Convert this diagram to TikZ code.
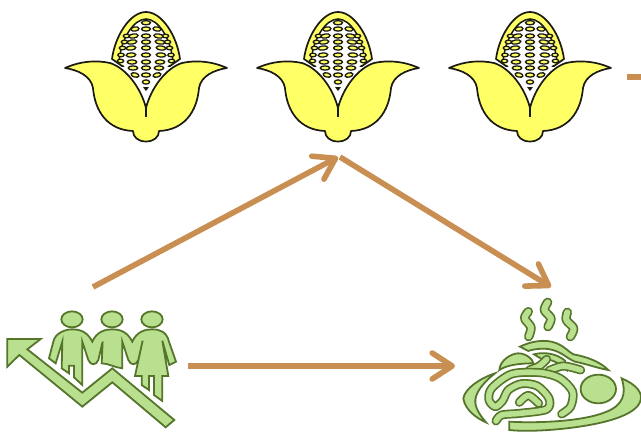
\documentclass[tikz,border=0pt]{standalone}
\usepackage{xcolor}
\usetikzlibrary{arrows.meta}
\definecolor{cornyellow}{HTML}{FFFF66}
\definecolor{cornline}{HTML}{1A1A10}
\definecolor{foodgreen}{HTML}{B9E08F}
\definecolor{foodline}{HTML}{55752B}
\definecolor{flowbrown}{HTML}{C98F52}
\tikzset{
  cornpart/.style={fill=cornyellow, draw=cornline, line width=1.7pt, line join=round},
  kernel/.style={fill=cornyellow, draw=cornline, line width=1.3pt},
  greenpart/.style={fill=foodgreen, draw=foodline, line width=1.8pt, line join=miter},
  noodle/.style={draw=foodline, line width=1.7pt, double=foodgreen, double distance=5.6pt, line cap=round, line join=round},
  steam/.style={noodle, double distance=6pt},
  flowline/.style={draw=flowbrown, line width=5.6pt, -{Straight Barb[round, length=20pt, width=26pt, line width=5.6pt]}},
}
\begin{document}
\begin{tikzpicture}[x=1pt, y=-1pt]
  \useasboundingbox (0,0) rectangle (641,434);
  % corn row
  \foreach \cx in {146,338,530} {
    \begin{scope}[shift={(\cx,0)}]
      \draw[cornpart] (-34,59) .. controls (-31,36) and (-16,12) .. (0,12) .. controls (16,12) and (31,36) .. (34,59) -- (24,66) -- (-24,66) -- cycle;
      \fill[white] (-27,60) .. controls (-25,38) and (-12,19) .. (0,19) .. controls (12,19) and (25,38) .. (27,60) -- (0,92) -- cycle;
      \draw[cornline, line width=1.5pt] (-27,62) .. controls (-25,38) and (-12,19) .. (0,19) .. controls (12,19) and (25,38) .. (27,62);
      \foreach \ky/\kx in {36/19.5, 42/21.5, 48/23.5, 55/25, 61/25.5} {
        \draw[kernel] (-\kx,\ky) ellipse (3.2pt and 1.8pt);
        \draw[kernel] (\kx,\ky) ellipse (3.2pt and 1.8pt);
      }
      \foreach \ky/\kx/\krx/\kang in {29/11/4/8, 36/12.5/4.6/8, 42/14/4.8/8, 48/15/4.8/6, 55/15/4.8/4, 62/14/4.8/0, 68/13/4.8/0, 75/11/4/-15} {
        \draw[kernel] (-\kx,\ky) [rotate around={\kang:(-\kx,\ky)}] ellipse (\krx pt and 2.1pt);
        \draw[kernel] (\kx,\ky) [rotate around={-\kang:(\kx,\ky)}] ellipse (\krx pt and 2.1pt);
      }
      \foreach \ky/\krx in {22.7/4.5, 29/4.5, 36/4.5, 42/4.5, 48/4.5, 55/4.5, 62/4.5, 68/4.5, 75/4.5, 82/3.6} {
        \draw[kernel] (0,\ky) ellipse (\krx pt and 2.1pt);
      }
      \fill[cornline] (-3,87) -- (3,87) -- (0,91) -- cycle;
      \draw[cornpart] (0,108) .. controls (-5,88) and (-20,68) .. (-36,63) .. controls (-50,60) and (-65,61) .. (-81,68)
        .. controls (-68,70) and (-55,76) .. (-53,88) .. controls (-51,112) and (-38,130) .. (-13,131)
        .. controls (-13,137) and (-8,141.5) .. (0,141.5) .. controls (8,141.5) and (13,137) .. (13,131)
        .. controls (38,130) and (51,112) .. (53,88) .. controls (55,76) and (68,70) .. (81,68)
        .. controls (65,61) and (50,60) .. (36,63) .. controls (20,68) and (5,88) .. (0,108) -- cycle;
      \draw[cornline, line width=1.7pt] (0,106) -- (0,117);
    \end{scope}
  }
  % people on the rising line
  \begin{scope}[shift={(0,300)}, scale=0.3333]
    \draw[greenpart] (216,58) ellipse (32 and 24);
    \draw[greenpart] (336,58) ellipse (32 and 24);
    \draw[greenpart] (456,58) ellipse (32 and 24);
    \draw[greenpart] (147,175) -- (160,125) .. controls (165,100) and (195,88) .. (216,88) .. controls (240,88) and (262,95) .. (277,125)
      .. controls (290,95) and (315,88) .. (336,88) .. controls (360,88) and (382,95) .. (397,125)
      .. controls (410,95) and (435,88) .. (456,88) .. controls (480,88) and (500,95) .. (507,125) -- (528,185) -- (508,195) -- (487,122)
      -- (505,228) -- (487,228) -- (487,303) -- (462,285) -- (462,228) -- (447,228) -- (447,270) -- (425,255) -- (425,228) -- (405,228) -- (428,122)
      -- (415,180) .. controls (408,197) and (392,197) .. (385,180) -- (367,125) -- (367,205) .. controls (345,203) and (325,190) .. (305,190) -- (308,125)
      -- (295,180) .. controls (288,197) and (272,197) .. (265,180) -- (247,125) -- (247,255) -- (222,232) -- (222,197) -- (207,197) -- (207,220) -- (185,205) -- (187,125) -- (167,190) -- cycle;
    \draw[greenpart] (22,117) -- (122,117) -- (82,148) -- (247,278) -- (337,205) -- (523,360) -- (497,382) -- (337,247) -- (247,320) -- (58,165) -- (22,200) -- cycle;
  \end{scope}
  % plate of food
  \begin{scope}[shift={(450,290)}, scale=0.3333]
    \draw[steam] plot[smooth] coordinates {(235,65) (224,85) (243,112) (236,140)};
    \draw[steam] plot[smooth] coordinates {(293,37) (283,60) (303,85) (294,110)};
    \draw[steam] plot[smooth] coordinates {(352,67) (349,90) (371,115) (361,140)};
    \draw[greenpart] (135,250) .. controls (90,265) and (45,295) .. (40,325) .. controls (45,360) and (80,385) .. (108,397) .. controls (85,370) and (70,345) .. (78,320) .. controls (85,295) and (110,270) .. (135,250) -- cycle;
    \draw[greenpart] (515,265) .. controls (550,280) and (573,300) .. (573,322) .. controls (573,370) and (480,400) .. (350,415) .. controls (290,422) and (220,425) .. (178,420) -- (178,395) .. controls (260,400) and (400,395) .. (470,365) .. controls (520,345) and (530,310) .. (515,265) -- cycle;
    \draw[greenpart] (148,240) .. controls (150,210) and (185,190) .. (205,190) .. controls (230,190) and (250,210) .. (250,220) .. controls (210,220) and (170,225) .. (148,240) -- cycle;
    \draw[greenpart] (210,170) .. controls (240,155) and (285,145) .. (320,160) .. controls (345,170) and (355,185) .. (370,193) .. controls (410,200) and (450,215) .. (475,240) .. controls (445,235) and (410,222) .. (375,215) .. controls (350,205) and (335,185) .. (300,178) .. controls (280,174) and (250,177) .. (235,183) -- cycle;
    \draw[greenpart] (252,193) .. controls (280,185) and (320,190) .. (345,212) -- (350,240) -- (330,225) .. controls (315,212) and (300,208) .. (280,210) -- cycle;
    \draw[noodle] plot[smooth] coordinates {(238,240) (268,228) (290,208)};
    \draw[noodle] plot[smooth] coordinates {(297,242) (340,228) (392,240)};
    \draw[noodle] plot[smooth] coordinates {(335,372) (362,350) (368,305) (330,265) (270,248) (185,252) (125,295) (117,330) (136,350) (158,332) (175,300) (215,281) (262,288) (297,325) (290,358) (210,370) (155,375) (138,393)};
    \draw[noodle] plot[smooth] coordinates {(208,337) (235,316) (266,340)};
    \draw[greenpart] (445,297) ellipse (53 and 43);
  \end{scope}
  % flows
  \coordinate (peopleout) at (93,287);
  \coordinate (cornin) at (338,157);
  \coordinate (cornout) at (340,157);
  \coordinate (foodin) at (551,287);
  \coordinate (peopleside) at (188,366);
  \coordinate (foodside) at (455,366);
  \coordinate (stubin) at (627,77);
  \coordinate (stubout) at (641,77);
  \draw[flowline] (peopleout) -- (cornin);
  \draw[flowline] (cornout) -- (foodin);
  \draw[flowline] (peopleside) -- (foodside);
  \draw[draw=flowbrown, line width=5.6pt] (stubin) -- (stubout);
\end{tikzpicture}
\end{document}
